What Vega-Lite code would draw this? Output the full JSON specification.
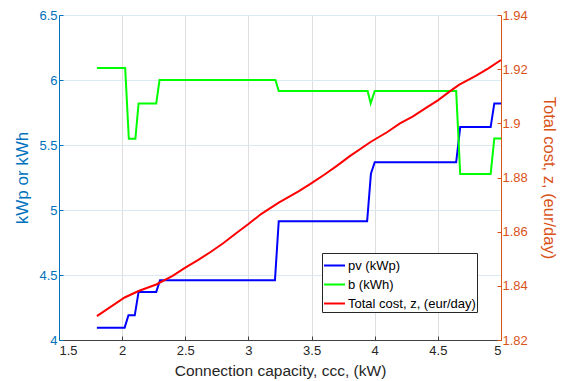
{
  "$schema": "https://vega.github.io/schema/vega-lite/v6.json",
  "autosize": {"type": "none"},
  "width": 442,
  "height": 325,
  "padding": {"left": 59, "top": 15, "right": 60, "bottom": 41},
  "background": "white",
  "config": {
    "view": {"stroke": null},
    "font": "Liberation Sans",
    "axis": {"labelFont": "Liberation Sans", "titleFont": "Liberation Sans", "titleFontWeight": "normal", "labelFontSize": 13, "titleFontSize": 15.5}
  },
  "data": {
    "values": [
      {"x": 1.8, "v": 4.095, "s": "pv (kWp)"},
      {"x": 2.02, "v": 4.095, "s": "pv (kWp)"},
      {"x": 2.05, "v": 4.19, "s": "pv (kWp)"},
      {"x": 2.1, "v": 4.19, "s": "pv (kWp)"},
      {"x": 2.13, "v": 4.37, "s": "pv (kWp)"},
      {"x": 2.27, "v": 4.37, "s": "pv (kWp)"},
      {"x": 2.3, "v": 4.46, "s": "pv (kWp)"},
      {"x": 3.21, "v": 4.46, "s": "pv (kWp)"},
      {"x": 3.24, "v": 4.913, "s": "pv (kWp)"},
      {"x": 3.94, "v": 4.913, "s": "pv (kWp)"},
      {"x": 3.97, "v": 5.28, "s": "pv (kWp)"},
      {"x": 4.0, "v": 5.367, "s": "pv (kWp)"},
      {"x": 4.645, "v": 5.367, "s": "pv (kWp)"},
      {"x": 4.677, "v": 5.638, "s": "pv (kWp)"},
      {"x": 4.918, "v": 5.638, "s": "pv (kWp)"},
      {"x": 4.947, "v": 5.82, "s": "pv (kWp)"},
      {"x": 5.0, "v": 5.82, "s": "pv (kWp)"},
      {"x": 1.8, "v": 6.092, "s": "b (kWh)"},
      {"x": 2.024, "v": 6.092, "s": "b (kWh)"},
      {"x": 2.053, "v": 5.548, "s": "b (kWh)"},
      {"x": 2.105, "v": 5.548, "s": "b (kWh)"},
      {"x": 2.13, "v": 5.82, "s": "b (kWh)"},
      {"x": 2.27, "v": 5.82, "s": "b (kWh)"},
      {"x": 2.296, "v": 6.0, "s": "b (kWh)"},
      {"x": 3.214, "v": 6.0, "s": "b (kWh)"},
      {"x": 3.24, "v": 5.915, "s": "b (kWh)"},
      {"x": 3.944, "v": 5.915, "s": "b (kWh)"},
      {"x": 3.968, "v": 5.82, "s": "b (kWh)"},
      {"x": 4.0, "v": 5.915, "s": "b (kWh)"},
      {"x": 4.645, "v": 5.915, "s": "b (kWh)"},
      {"x": 4.677, "v": 5.277, "s": "b (kWh)"},
      {"x": 4.918, "v": 5.277, "s": "b (kWh)"},
      {"x": 4.947, "v": 5.55, "s": "b (kWh)"},
      {"x": 5.0, "v": 5.55, "s": "b (kWh)"},
      {"x": 1.8, "v": 1.8288, "s": "Total cost, z, (eur/day)"},
      {"x": 2.02, "v": 1.8357, "s": "Total cost, z, (eur/day)"},
      {"x": 2.13, "v": 1.8381, "s": "Total cost, z, (eur/day)"},
      {"x": 2.27, "v": 1.8405, "s": "Total cost, z, (eur/day)"},
      {"x": 2.4, "v": 1.8437, "s": "Total cost, z, (eur/day)"},
      {"x": 2.5, "v": 1.8467, "s": "Total cost, z, (eur/day)"},
      {"x": 2.6, "v": 1.8495, "s": "Total cost, z, (eur/day)"},
      {"x": 2.7, "v": 1.8525, "s": "Total cost, z, (eur/day)"},
      {"x": 2.8, "v": 1.8557, "s": "Total cost, z, (eur/day)"},
      {"x": 2.9, "v": 1.8593, "s": "Total cost, z, (eur/day)"},
      {"x": 3.0, "v": 1.8628, "s": "Total cost, z, (eur/day)"},
      {"x": 3.1, "v": 1.8665, "s": "Total cost, z, (eur/day)"},
      {"x": 3.24, "v": 1.8707, "s": "Total cost, z, (eur/day)"},
      {"x": 3.4, "v": 1.875, "s": "Total cost, z, (eur/day)"},
      {"x": 3.5, "v": 1.8779, "s": "Total cost, z, (eur/day)"},
      {"x": 3.6, "v": 1.881, "s": "Total cost, z, (eur/day)"},
      {"x": 3.7, "v": 1.8843, "s": "Total cost, z, (eur/day)"},
      {"x": 3.8, "v": 1.8878, "s": "Total cost, z, (eur/day)"},
      {"x": 3.97, "v": 1.8932, "s": "Total cost, z, (eur/day)"},
      {"x": 4.1, "v": 1.8968, "s": "Total cost, z, (eur/day)"},
      {"x": 4.2, "v": 1.9, "s": "Total cost, z, (eur/day)"},
      {"x": 4.3, "v": 1.9025, "s": "Total cost, z, (eur/day)"},
      {"x": 4.4, "v": 1.9055, "s": "Total cost, z, (eur/day)"},
      {"x": 4.5, "v": 1.9085, "s": "Total cost, z, (eur/day)"},
      {"x": 4.6, "v": 1.912, "s": "Total cost, z, (eur/day)"},
      {"x": 4.67, "v": 1.9143, "s": "Total cost, z, (eur/day)"},
      {"x": 4.8, "v": 1.9175, "s": "Total cost, z, (eur/day)"},
      {"x": 4.9, "v": 1.9203, "s": "Total cost, z, (eur/day)"},
      {"x": 5.0, "v": 1.9234, "s": "Total cost, z, (eur/day)"}
    ]
  },
  "encoding": {
    "x": {
      "field": "x", "type": "quantitative",
      "scale": {"domain": [1.5, 5], "nice": false, "zero": false},
      "axis": {
        "values": [1.5, 2, 2.5, 3, 3.5, 4, 4.5, 5],
        "format": "~g",
        "title": "Connection capacity, ccc, (kW)",
        "titleColor": "#262626", "labelColor": "#262626",
        "domainColor": "#404040", "tickColor": "#404040",
        "gridColor": "#dedede", "grid": true,
        "tickSize": -4, "labelPadding": 8, "titlePadding": 6
      }
    },
    "color": {
      "field": "s", "type": "nominal",
      "scale": {"domain": ["pv (kWp)", "b (kWh)", "Total cost, z, (eur/day)"], "range": ["#0000ff", "#00ff00", "#ff0000"]},
      "legend": {
        "orient": "none", "legendX": 263, "legendY": 238, "title": null,
        "symbolType": "stroke", "symbolSize": 441, "symbolStrokeWidth": 2,
        "labelFontSize": 13, "labelFont": "Liberation Sans", "labelColor": "#000000",
        "labelExpr": "datum.label + '\u2007\u2007\u2007'",
        "labelOffset": 2, "rowPadding": -6, "padding": 1,
        "fillColor": "white", "strokeColor": "#262626", "cornerRadius": 0
      }
    }
  },
  "layer": [
    {
      "transform": [{"filter": "datum.s !== 'Total cost, z, (eur/day)'"}],
      "mark": {"type": "line", "strokeWidth": 2},
      "encoding": {
        "y": {
          "field": "v", "type": "quantitative",
          "scale": {"domain": [4, 6.5], "nice": false, "zero": false},
          "axis": {
            "orient": "left",
            "values": [4, 4.5, 5, 5.5, 6, 6.5],
            "format": "~g",
            "title": "kWp or kWh",
            "titleColor": "#0072BD", "labelColor": "#0072BD",
            "domainColor": "#0072BD", "tickColor": "#0072BD",
            "grid": true, "gridColor": "#d9eaf5",
            "tickSize": -4, "labelPadding": 6, "titlePadding": 7, "titleFontSize": 17
          }
        }
      }
    },
    {
      "transform": [{"filter": "datum.s === 'Total cost, z, (eur/day)'"}],
      "mark": {"type": "line", "strokeWidth": 2},
      "encoding": {
        "y": {
          "field": "v", "type": "quantitative",
          "scale": {"domain": [1.82, 1.94], "nice": false, "zero": false},
          "axis": {
            "orient": "right",
            "values": [1.82, 1.84, 1.86, 1.88, 1.9, 1.92, 1.94],
            "format": "~g",
            "title": "Total cost, z, (eur/day)",
            "titleColor": "#D95319", "labelColor": "#D95319",
            "domainColor": "#D95319", "tickColor": "#D95319",
            "grid": false,
            "tickSize": -4, "labelPadding": 5, "titlePadding": 13, "titleFontSize": 16.5
          }
        }
      }
    }
  ],
  "resolve": {"scale": {"y": "independent"}, "axis": {"y": "independent"}}
}
